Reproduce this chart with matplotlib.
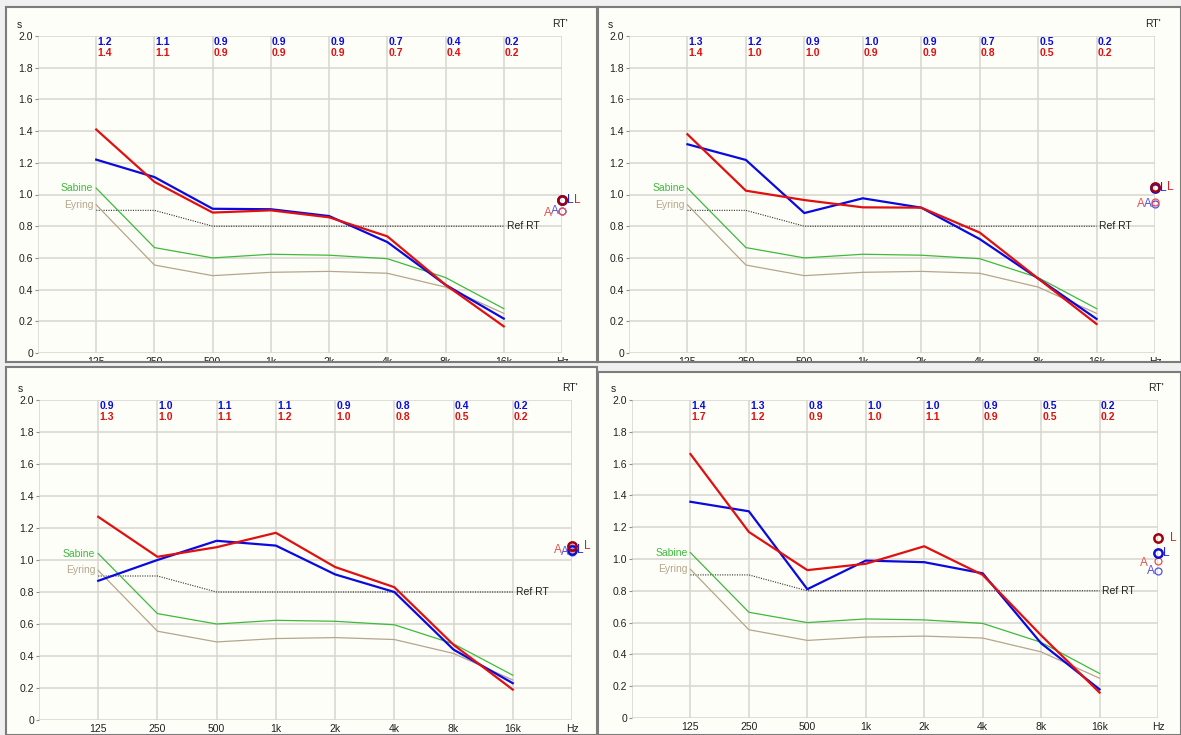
import numpy as np
import matplotlib
matplotlib.use('Agg')
import matplotlib.pyplot as plt

plt.rcParams['font.family'] = ['Liberation Sans', 'DejaVu Sans']
plt.rcParams['font.size'] = 7.5

bands = ['125', '250', '500', '1k', '2k', '4k', '8k', '16k']

# simulated reverberation times, same for every measurement
sabine = [1.04, 0.665, 0.60, 0.623, 0.617, 0.595, 0.476, 0.28]
eyring = [0.935, 0.555, 0.488, 0.509, 0.515, 0.503, 0.416, 0.25]
ref_rt = [0.9, 0.9, 0.8, 0.8, 0.8, 0.8, 0.8, 0.8]

# measured RT per position (blue / red channel)
rt_blue_1 = [1.22, 1.11, 0.91, 0.907, 0.864, 0.70, 0.43, 0.217]
rt_red_1 = [1.41, 1.08, 0.886, 0.90, 0.856, 0.736, 0.43, 0.168]
rt_blue_2 = [1.317, 1.218, 0.883, 0.976, 0.917, 0.719, 0.47, 0.215]
rt_red_2 = [1.38, 1.024, 0.965, 0.919, 0.917, 0.76, 0.47, 0.183]
rt_blue_3 = [0.87, 1.0, 1.12, 1.09, 0.91, 0.80, 0.44, 0.23]
rt_red_3 = [1.27, 1.02, 1.08, 1.17, 0.956, 0.83, 0.47, 0.19]
rt_blue_4 = [1.36, 1.30, 0.81, 0.99, 0.98, 0.91, 0.47, 0.18]
rt_red_4 = [1.66, 1.17, 0.93, 0.97, 1.08, 0.90, 0.52, 0.16]

# band averages shown at the right edge
avg_l_blue = [0.965, 1.04, 1.06, 1.04]
avg_l_red = [0.965, 1.05, 1.09, 1.134]
avg_a_blue = [0.897, 0.94, 1.05, 0.925]
avg_a_red = [0.897, 0.95, 1.075, 0.987]

W, H = 1181, 735
BG = '#F0F0F0'
PANEL = '#FEFEF8'
GRID = '#D6D6CE'
BLUE = '#0A0AE0'
RED = '#E01010'


def px(x0, y0, x1, y1):
    return [x0 / W, 1 - y1 / H, (x1 - x0) / W, (y1 - y0) / H]


fig = plt.figure(figsize=(W / 100, H / 100), dpi=100, facecolor=BG)

frames = [(6, 7, 597, 362), (598, 7, 1181, 362),
          (6, 367, 597, 735), (598, 372, 1181, 735)]
plots = [(38, 36, 562, 353), (629, 36, 1155, 353),
         (39, 400, 572, 720), (632, 400, 1158, 718)]
blues = [rt_blue_1, rt_blue_2, rt_blue_3, rt_blue_4]
reds = [rt_red_1, rt_red_2, rt_red_3, rt_red_4]

x = np.arange(1, 9)

for k in range(4):
    back = fig.add_axes(px(*frames[k]), zorder=0)
    back.set_facecolor(PANEL)
    back.set_xticks([])
    back.set_yticks([])
    for s in back.spines.values():
        s.set_visible(False)

    ax = fig.add_axes(px(*plots[k]), zorder=1)
    ax.set_facecolor('none')
    ax.set_xlim(0, 9)
    ax.set_ylim(0, 2.0)
    ax.set_xticks(range(10))
    ax.set_xticklabels([''] + bands + ['Hz'])
    yt = np.round(np.arange(0, 2.01, 0.2), 1)
    ax.set_yticks(yt)
    ax.set_yticklabels(['0'] + [f'{v:.1f}' for v in yt[1:]])
    ax.grid(color=GRID, lw=1.1)
    ax.set_axisbelow(True)
    ax.tick_params(axis='x', length=0, pad=3, labelcolor='#202020')
    ax.tick_params(axis='y', length=2.5, pad=1, color='#909090', labelcolor='#202020')
    for s in ax.spines.values():
        s.set_visible(False)

    ax.plot(x, ref_rt, color='#303030', lw=0.8, ls=(0, (1, 1.2)))
    ax.plot(x, eyring, color='#B5A68C', lw=0.9)
    ax.plot(x, sabine, color='#3DBA3D', lw=0.9)
    ax.plot(x, blues[k], color=BLUE, lw=1.6)
    ax.plot(x, reds[k], color=RED, lw=1.6)

    ax.text(0.95, sabine[0], 'Sabine', ha='right', va='center', color='#3DBA3D')
    ax.text(0.95, eyring[0], 'Eyring', ha='right', va='center', color='#B5A68C')
    ax.text(8.05, ref_rt[-1], 'Ref RT', ha='left', va='center', color='#202020')

    for i in range(8):
        ax.text(i + 1.02, 1.965, f'{blues[k][i]:.1f}', ha='left', va='center',
                color=BLUE, fontweight='bold')
        ax.text(i + 1.02, 1.895, f'{reds[k][i]:.1f}', ha='left', va='center',
                color=RED, fontweight='bold')

    ax.annotate("RT'", xy=(9, 1), xycoords=('data', 'axes fraction'),
                xytext=(-2, 12), textcoords='offset pixels',
                ha='center', va='center', color='#202020')
    ax.annotate('s', xy=(0, 1), xycoords='axes fraction',
                xytext=(-19, 11), textcoords='offset pixels',
                ha='center', va='center', color='#202020')

    # averages: A thin circles, L thick circles
    ax.plot(9, avg_a_blue[k], 'o', mfc='none', mec='#5050E8', mew=0.9, ms=5, clip_on=False)
    ax.plot(9, avg_a_red[k], 'o', mfc='none', mec='#E85050', mew=0.9, ms=5, clip_on=False)
    ax.plot(9, avg_l_blue[k], 'o', mfc='none', mec='#1010D0', mew=1.8, ms=6, clip_on=False)
    ax.plot(9, avg_l_red[k], 'o', mfc='none', mec='#A00010', mew=1.8, ms=6, clip_on=False)
    ax.annotate('L', xy=(9, avg_l_blue[k]), xytext=(8, 0), textcoords='offset pixels',
                ha='center', va='center', color='#2020E0', fontsize=8.5)
    ax.annotate('L', xy=(9, avg_l_red[k]), xytext=(15, 0), textcoords='offset pixels',
                ha='center', va='center', color='#E02020', fontsize=8.5)
    ax.annotate('A', xy=(9, avg_a_blue[k]), xytext=(-7, 0), textcoords='offset pixels',
                ha='center', va='center', color='#5050E8', fontsize=8.5)
    ax.annotate('A', xy=(9, avg_a_red[k]), xytext=(-14, -2), textcoords='offset pixels',
                ha='center', va='center', color='#E85050', fontsize=8.5)

    border = fig.add_axes(px(*frames[k]), zorder=4)
    border.set_facecolor('none')
    border.set_xticks([])
    border.set_yticks([])
    for s in border.spines.values():
        s.set_color('#7C7C7C')
        s.set_linewidth(1.5)

# background strips between the panels
for box in [(0, 362, 597, 367), (597, 362, 1181, 372), (597, 0, 598, 735)]:
    cov = fig.add_axes(px(*box), zorder=3)
    cov.set_facecolor(BG)
    cov.set_xticks([])
    cov.set_yticks([])
    for s in cov.spines.values():
        s.set_visible(False)

fig.savefig('out.png', dpi=100, facecolor=BG)
